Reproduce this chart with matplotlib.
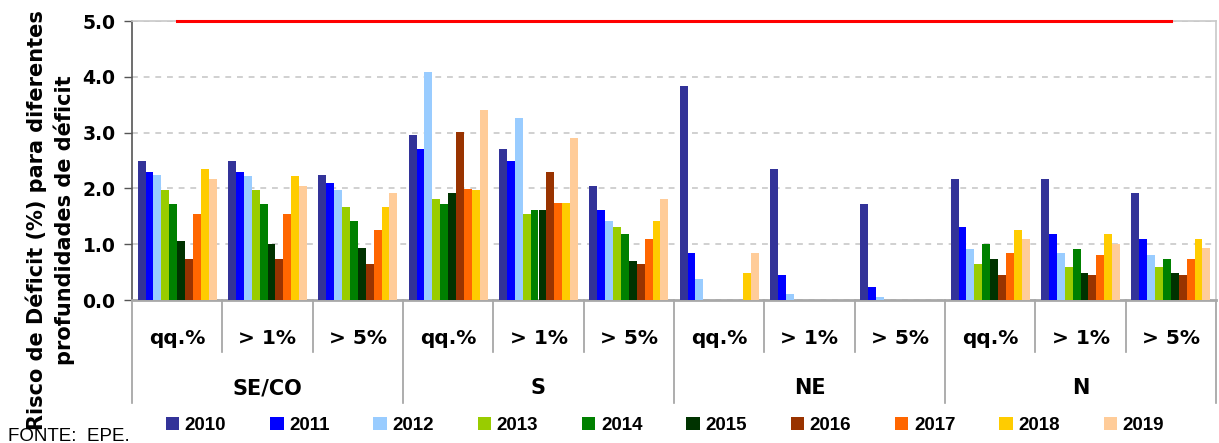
import matplotlib
matplotlib.use("Agg")
import matplotlib.pyplot as plt
import matplotlib.transforms as mtransforms
from matplotlib.patches import Patch
import numpy as np

regions = ["SE/CO", "S", "NE", "N"]
depths = ["qq.%", "> 1%", "> 5%"]
years = ["2010", "2011", "2012", "2013", "2014", "2015", "2016", "2017", "2018", "2019"]
colors = ["#333399", "#0000FF", "#99CCFF", "#99CC00", "#008000",
          "#003300", "#993300", "#FF6600", "#FFCC00", "#FFCC99"]

# values per category (region x depth), one list per year
v2010 = [2.49, 2.49, 2.24, 2.96, 2.71, 2.04, 3.84, 2.35, 1.72, 2.17, 2.17, 1.91]
v2011 = [2.29, 2.29, 2.09, 2.71, 2.49, 1.61, 0.85, 0.44, 0.24, 1.30, 1.19, 1.10]
v2012 = [2.24, 2.22, 1.97, 4.09, 3.27, 1.41, 0.37, 0.11, 0.06, 0.91, 0.85, 0.80]
v2013 = [1.97, 1.97, 1.66, 1.81, 1.55, 1.30, 0.00, 0.00, 0.00, 0.65, 0.60, 0.60]
v2014 = [1.72, 1.72, 1.41, 1.72, 1.61, 1.19, 0.00, 0.00, 0.00, 1.00, 0.91, 0.74]
v2015 = [1.05, 1.00, 0.94, 1.91, 1.61, 0.69, 0.00, 0.00, 0.00, 0.74, 0.49, 0.49]
v2016 = [0.74, 0.74, 0.65, 3.01, 2.29, 0.65, 0.00, 0.00, 0.00, 0.44, 0.44, 0.44]
v2017 = [1.55, 1.55, 1.25, 1.99, 1.73, 1.10, 0.00, 0.00, 0.00, 0.85, 0.80, 0.74]
v2018 = [2.35, 2.22, 1.66, 1.97, 1.73, 1.41, 0.49, 0.00, 0.00, 1.25, 1.19, 1.10]
v2019 = [2.17, 2.04, 1.91, 3.41, 2.91, 1.81, 0.85, 0.00, 0.00, 1.10, 1.00, 0.94]
series = [v2010, v2011, v2012, v2013, v2014, v2015, v2016, v2017, v2018, v2019]
limit = [5.0] * 12

W, H = 1219, 443
fig = plt.figure(figsize=(W / 100, H / 100), dpi=100)
ax = fig.add_axes([132 / W, 1 - 300 / H, (1216 - 132) / W, (300 - 21) / H])

n_cat = len(regions) * len(depths)
x = np.arange(n_cat)
bw = 0.0876
for i, (vals, col, yr) in enumerate(zip(series, colors, years)):
    ax.bar(x + (i - 4.5) * bw, vals, width=bw, color=col, label=yr, zorder=3, linewidth=0)

ax.plot(x, limit, color="#FF0000", lw=2.2, zorder=5, clip_on=False, solid_capstyle="projecting")

ax.set_xlim(-0.5, n_cat - 0.5)
ax.set_ylim(0, 5)
ax.set_yticks(np.arange(0, 5.01, 1.0))
ax.set_yticklabels([f"{t:.1f}" for t in np.arange(0, 5.01, 1.0)],
                   fontsize=13.5, fontweight="bold", family="DejaVu Sans")
ax.tick_params(axis="y", length=6, width=1, color="#555555", pad=6)
ax.set_xticks([])
ax.yaxis.grid(True, linestyle=(0, (3.5, 3.5)), color="#C8C8C8", lw=1.2, zorder=1)
ax.set_axisbelow(True)

for s in ["top", "right"]:
    ax.spines[s].set_color("#C8C8C8")
    ax.spines[s].set_linewidth(1.2)
ax.spines["left"].set_color("#555555")
ax.spines["left"].set_linewidth(1.2)
ax.spines["bottom"].set_color("#A8A8A8")
ax.spines["bottom"].set_linewidth(2)

# multi-level category axis
trans = mtransforms.blended_transform_factory(ax.transData, ax.transAxes)
ah = 300 - 21
inner_y = -52 / ah
outer_y = -103 / ah
for b in range(n_cat + 1):
    xb = b - 0.5
    yb = outer_y if b % 3 == 0 else inner_y
    ax.plot([xb, xb], [0, yb], transform=trans, color="#A0A0A0", lw=1.2, clip_on=False, zorder=2)
for k in range(n_cat):
    ax.text(k, -38 / ah, depths[k % 3], transform=trans, ha="center", va="center",
            fontsize=14.5, fontweight="bold", family="DejaVu Sans")
for r, reg in enumerate(regions):
    ax.text(r * 3 + 1, -88 / ah, reg, transform=trans, ha="center", va="center",
            fontsize=15, fontweight="bold", family="DejaVu Sans")

fig.text(50 / W, 1 - 220 / H, "Risco de Déficit (%) para diferentes\nprofundidades de déficit",
         rotation=90, ha="center", va="center", multialignment="center",
         fontsize=15, fontweight="bold", family="DejaVu Sans", linespacing=1.35)

handles = [Patch(facecolor=c, edgecolor="none") for c in colors]
fig.legend(handles, years, loc="center", bbox_to_anchor=(665 / W, 1 - 425.5 / H),
           ncol=10, frameon=False, handlelength=0.72, handleheight=0.72,
           handletextpad=0.3, columnspacing=2.33, borderpad=0,
           prop={"family": "Liberation Sans", "weight": "bold", "size": 13.5})

fig.text(8 / W, 1 - 428 / H, "FONTE:  EPE.", ha="left", va="top",
         fontsize=13.5, family="Liberation Sans")

fig.savefig("out.png", dpi=100)
